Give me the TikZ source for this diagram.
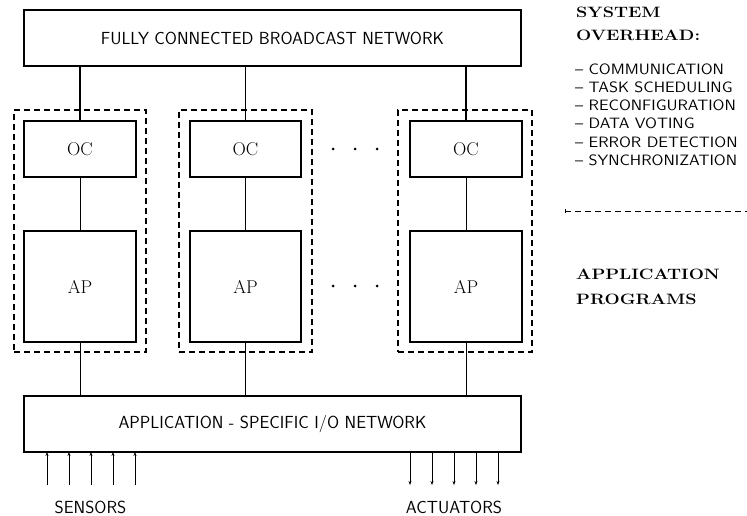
\documentclass[tikz,border=0pt]{standalone}
\usetikzlibrary{arrows.meta}
\newcommand{\hstretch}[2]{\scalebox{#1}[1]{#2}}
\begin{document}
\begin{tikzpicture}[x=1pt,y=-1pt,
  box/.style={draw,line width=1.5pt,inner sep=0pt,outer sep=0pt},
  thinbox/.style={draw,line width=1.1pt,inner sep=0pt,outer sep=0pt},
  group/.style={draw,line width=1.1pt,dash pattern=on 6pt off 4pt,inner sep=0pt,outer sep=0pt},
  sanstext/.style={font=\fontsize{17.5}{20}\selectfont\sffamily},
  listtext/.style={font=\fontsize{15}{17}\selectfont\sffamily,anchor=base west,inner sep=0pt},
  headtext/.style={font=\fontsize{15}{18}\selectfont\bfseries,anchor=base west,inner sep=0pt},
  serif/.style={font=\fontsize{18.5}{20}\selectfont},
  thick1/.style={line width=1.6pt},
  thin1/.style={line width=0.9pt},
  io/.style={line width=1pt,-{Stealth[length=4pt,width=3pt]}},
  dot/.style={circle,fill,inner sep=0pt,minimum size=3pt}
]
\useasboundingbox (0,0) rectangle (747,516);

% networks
\node[box,minimum width=497pt,minimum height=56pt,sanstext] (top) at (272.5,38) {FULLY CONNECTED BROADCAST NETWORK};
\node[thinbox,line width=1.3pt,minimum width=497pt,minimum height=56pt,sanstext] (bot) at (272.5,424) {APPLICATION - SPECIFIC I/O NETWORK};

% groups
\node[group,minimum width=132pt,minimum height=242pt] (g1) at (80,231) {};
\node[group,minimum width=133pt,minimum height=242pt] (g2) at (245.5,231) {};
\node[group,minimum width=134pt,minimum height=242pt] (g3) at (465,231) {};

% OC boxes
\node[box,minimum width=112pt,minimum height=56pt,serif] (oc1) at (80,149) {OC};
\node[box,minimum width=111pt,minimum height=56pt,serif] (oc2) at (245.5,149) {OC};
\node[box,minimum width=112pt,minimum height=56pt,serif] (oc3) at (466,149) {OC};

% AP boxes
\node[thinbox,minimum width=112pt,minimum height=111pt,serif] (ap1) at (80,286.5) {AP};
\node[thinbox,minimum width=111pt,minimum height=111pt,serif] (ap2) at (245.5,286.5) {AP};
\node[thinbox,minimum width=112pt,minimum height=111pt,serif] (ap3) at (466,286.5) {AP};

% connectors
\foreach \i in {1,2,3}{
  \draw[thick1] (oc\i.north) -- (oc\i.north |- top.south);
  \draw[thin1] (oc\i.south) -- (ap\i.north);
  \draw[thin1] (ap\i.south) -- (ap\i.south |- bot.north);
}

% dots
\node[dot] (d1) at (333,149) {};
\node[dot] (d2) at (355,149) {};
\node[dot] (d3) at (377,149) {};
\node[dot] (d4) at (333,286) {};
\node[dot] (d5) at (355,286) {};
\node[dot] (d6) at (377,286) {};

% sensors and actuators
\foreach \x [count=\k] in {47,69,91,113,135}{
  \coordinate (s\k) at (\x,485);
  \draw[io] (s\k) -- (s\k |- bot.south);
}
\foreach \x [count=\k] in {410,432,454,476,498}{
  \coordinate (a\k) at (\x,485);
  \draw[io] (a\k |- bot.south) -- (a\k);
}
\node[sanstext,inner sep=0pt] (sensors) at (90.5,507) {SENSORS};
\node[sanstext,inner sep=0pt] (actuators) at (454,507) {ACTUATORS};

% right side texts
\node[headtext] (h1) at (576,18) {\hstretch{1.2}{SYSTEM}};
\node[headtext] (h2) at (576,41) {\hstretch{1.2}{OVERHEAD:}};
\node[listtext] (l1) at (575,75) {\hstretch{1.1}{-- COMMUNICATION}};
\node[listtext] (l2) at (575,93) {\hstretch{1.1}{-- TASK SCHEDULING}};
\node[listtext] (l3) at (575,111) {\hstretch{1.1}{-- RECONFIGURATION}};
\node[listtext] (l4) at (575,129) {\hstretch{1.1}{-- DATA VOTING}};
\node[listtext] (l5) at (575,147) {\hstretch{1.1}{-- ERROR DETECTION}};
\node[listtext] (l6) at (575,165) {\hstretch{1.1}{-- SYNCHRONIZATION}};
\coordinate (sepL) at (565,211);
\coordinate (sepR) at (747,211);
\draw[line width=1pt,dash pattern=on 6pt off 4pt] (sepL) -- (sepR);
\draw[line width=0.8pt] ([yshift=-2pt]sepL) -- ([yshift=2pt]sepL);
\node[headtext] (p1) at (576,279) {\hstretch{1.2}{APPLICATION}};
\node[headtext] (p2) at (576,304) {\hstretch{1.2}{PROGRAMS}};
\end{tikzpicture}
\end{document}
